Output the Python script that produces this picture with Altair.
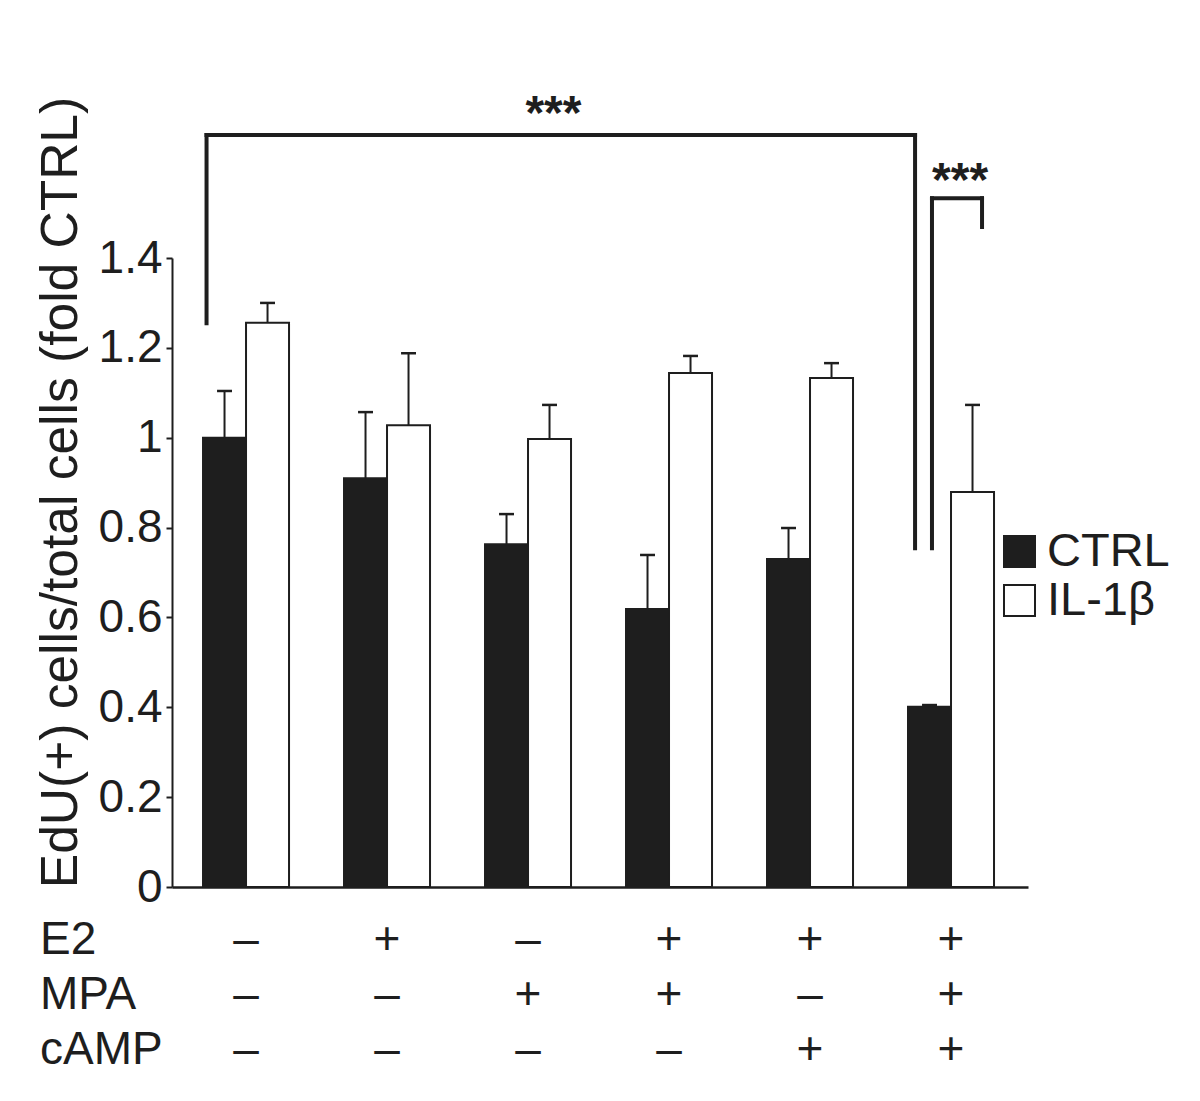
import altair as alt
import pandas as pd

# ---- data ----
series = ["CTRL", "IL-1β"]
ctrl_mean = [1.00, 0.91, 0.763, 0.619, 0.730, 0.401]
ctrl_upper = [1.104, 1.057, 0.830, 0.739, 0.799, 0.405]
il_mean = [1.256, 1.028, 0.997, 1.144, 1.133, 0.879]
il_upper = [1.300, 1.188, 1.073, 1.182, 1.166, 1.073]

row_names = ["E2", "MPA", "cAMP"]
e2_signs = ["–", "+", "–", "+", "+", "+"]
mpa_signs = ["–", "–", "+", "+", "–", "+"]
camp_signs = ["–", "–", "–", "–", "+", "+"]

y_ticks = [0, 0.2, 0.4, 0.6, 0.8, 1.0, 1.2, 1.4]
y_title = "EdU(+) cells/total cells (fold CTRL)"

# ---- layout / style ----
FONT = "Liberation Sans"
INK = "#1e1e1e"
BAR_W = 0.305          # bar width in group units
CAP_HALF = 0.053       # error cap half width in group units
X_DOMAIN = [-0.525, 5.546]
Y_DOMAIN = [0, 1.4]
ROW_Y = [-0.118, -0.240, -0.363]
ROW_LABEL_X = -1.461

n = len(ctrl_mean)
rows = []
for i in range(n):
    rows.append(dict(series="CTRL", g=i, mean=ctrl_mean[i], upper=ctrl_upper[i],
                     x0=i - BAR_W, x1=i, cx=i - BAR_W / 2, zero=0))
    rows.append(dict(series="IL-1β", g=i, mean=il_mean[i], upper=il_upper[i],
                     x0=i, x1=i + BAR_W, cx=i + BAR_W / 2, zero=0))
bars = pd.DataFrame(rows)
bars["c0"] = bars["cx"] - CAP_HALF
bars["c1"] = bars["cx"] + CAP_HALF

# significance brackets (segments in data units)
brackets = pd.DataFrame([
    dict(x=-0.28, x2=-0.28, y=1.255, y2=1.674),
    dict(x=-0.28, x2=4.745, y=1.674, y2=1.674),
    dict(x=4.745, x2=4.745, y=1.674, y2=0.754),
    dict(x=4.865, x2=4.865, y=0.754, y2=1.533),
    dict(x=4.865, x2=5.22, y=1.533, y2=1.533),
    dict(x=5.22, x2=5.22, y=1.533, y2=1.469),
])
stars = pd.DataFrame([
    dict(x=2.18, y=1.718, t="***"),
    dict(x=5.064, y=1.570, t="***"),
])

signs_rows = []
for r, signs in enumerate([e2_signs, mpa_signs, camp_signs]):
    for i, s in enumerate(signs):
        signs_rows.append(dict(x=i, y=ROW_Y[r], t=s))
signs_df = pd.DataFrame(signs_rows)
labels_df = pd.DataFrame([dict(x=ROW_LABEL_X, y=ROW_Y[r], t=row_names[r]) for r in range(3)])

xs = alt.Scale(domain=X_DOMAIN, nice=False, zero=False)
ys = alt.Scale(domain=Y_DOMAIN, nice=False, zero=False)

x_axis = alt.Axis(labels=False, ticks=False, grid=False, domainColor=INK, domainWidth=2.5)
y_axis = alt.Axis(
    values=y_ticks, format="~g", grid=False,
    labelFontSize=46, labelFont=FONT, labelColor=INK, labelPadding=4,
    tickSize=6, tickWidth=2, tickColor=INK, domainColor=INK, domainWidth=2,
    titleFont=FONT, titleFontSize=51.5, titleFontWeight="normal", titleColor=INK,
    titleAngle=270, titleAlign="center", titleBaseline="middle",
    titleX=-111, titleY=234)


def X(field):
    return alt.X(field, type="quantitative", scale=xs, axis=x_axis, title=None)


def Y(field):
    return alt.Y(field, type="quantitative", scale=ys, axis=y_axis, title=y_title)


bar_layer = alt.Chart(bars).mark_bar(stroke=INK, strokeWidth=2).encode(
    x=X("x0"),
    x2="x1:Q",
    y=Y("mean"),
    y2="zero:Q",
    fill=alt.Fill("series:N", scale=alt.Scale(domain=series, range=[INK, "#ffffff"]),
                  legend=alt.Legend(title=None, orient="none", legendX=824, legendY=270,
                                    symbolType="square", symbolSize=961, symbolStrokeColor=INK,
                                    symbolStrokeWidth=2, labelFontSize=47, labelFont=FONT,
                                    labelColor=INK, labelOffset=4, rowPadding=1, padding=0)),
)

err_line = alt.Chart(bars).mark_rule(color=INK, strokeWidth=2).encode(
    x=X("cx"),
    y=Y("mean"),
    y2="upper:Q",
)
err_cap = alt.Chart(bars).mark_rule(color=INK, strokeWidth=2.5).encode(
    x=X("c0"),
    x2="c1:Q",
    y=Y("upper"),
)

bracket_layer = alt.Chart(brackets).mark_rule(color=INK, strokeWidth=4, strokeCap="square").encode(
    x=X("x"), x2="x2:Q",
    y=Y("y"), y2="y2:Q",
)
star_layer = alt.Chart(stars).mark_text(font=FONT, fontSize=48, fontWeight="bold", color=INK,
                                        baseline="middle").encode(
    x=X("x"), y=Y("y"), text="t:N",
)
sign_layer = alt.Chart(signs_df).mark_text(font=FONT, fontSize=46, color=INK, baseline="middle").encode(
    x=X("x"), y=Y("y"), text="t:N",
)
label_layer = alt.Chart(labels_df).mark_text(font=FONT, fontSize=46, color=INK, baseline="middle",
                                             align="left").encode(
    x=X("x"), y=Y("y"), text="t:N",
)

chart = alt.layer(bar_layer, err_line, err_cap, bracket_layer, star_layer, sign_layer, label_layer).properties(
    width=856, height=629,
    autosize=alt.AutoSizeParams(type="none"),
    padding={"left": 164, "top": 250, "right": 156, "bottom": 198},
    background="white",
).configure_view(stroke=None)

chart.save("out.html", embed_options={"renderer": "svg", "actions": False})
